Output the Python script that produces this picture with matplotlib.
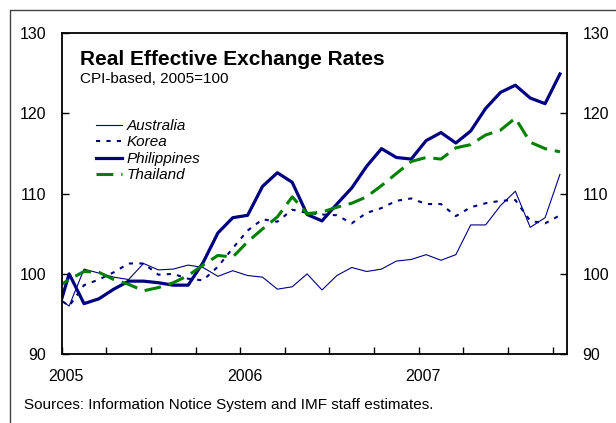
import matplotlib
matplotlib.use("Agg")
import matplotlib.pyplot as plt
import matplotlib.transforms as mtransforms
from matplotlib.lines import Line2D

plt.rcParams['font.family'] = ['Liberation Sans', 'DejaVu Sans']

# monthly data, Dec 2004 (clipped at the axis edge) to Oct 2007
months = list(range(-1, 34))
australia = [97.3, 96.0, 100.6, 100.1, 99.6, 99.3, 101.3, 100.5, 100.6, 101.1, 100.8,
             99.7, 100.4, 99.8, 99.6, 98.1, 98.4, 100.0, 98.0, 99.8, 100.8, 100.3,
             100.6, 101.6, 101.8, 102.4, 101.7, 102.4, 106.1, 106.1, 108.5, 110.3,
             105.8, 107.0, 112.4]
korea = [97.3, 96.0, 98.6, 99.3, 100.2, 101.3, 101.3, 99.9, 100.0, 99.4, 99.2,
         100.9, 103.2, 105.4, 106.8, 106.5, 108.0, 107.6, 107.4, 107.3, 106.3, 107.6,
         108.2, 109.1, 109.4, 108.7, 108.7, 107.2, 108.3, 108.8, 109.1, 109.2,
         106.6, 106.3, 107.3]
philippines = [93.8, 100.0, 96.3, 96.9, 98.1, 99.1, 99.1, 98.9, 98.6, 98.6, 101.4,
               105.1, 107.0, 107.3, 110.9, 112.6, 111.4, 107.4, 106.6, 108.7, 110.7,
               113.4, 115.6, 114.5, 114.3, 116.6, 117.6, 116.3, 117.8, 120.6, 122.6,
               123.5, 121.9, 121.2, 124.9]
thailand = [98.1, 99.3, 100.3, 100.2, 99.3, 98.7, 97.9, 98.3, 98.9, 99.8, 101.1,
            102.3, 102.1, 104.0, 105.6, 107.1, 109.6, 107.5, 107.7, 108.3, 108.8,
            109.6, 111.0, 112.5, 114.0, 114.5, 114.3, 115.7, 116.1, 117.3, 117.9,
            119.4, 116.4, 115.6, 115.2]
years = ['2005', '2006', '2007']
year_start = [0, 12, 24]

navy = '#000080'
green = '#008000'

fig = plt.figure(figsize=(6.16, 4.23), dpi=100)
ax = fig.add_axes([0.1002, 0.1626, 0.8209, 0.7594])

x = [m + 0.5 for m in months]
ax.plot(x, australia, color=navy, lw=0.8, label='Australia')
ax.plot(x, korea, color=navy, lw=1.5, ls=(0, (2.0, 3.0)), label='Korea')
ax.plot(x, philippines, color=navy, lw=2.3, label='Philippines')
ax.plot(x, thailand, color=green, lw=2.2, ls=(0, (5.5, 2.6)), label='Thailand')

ax.set_xlim(0, 34)
ax.set_ylim(90, 130)
ax.set_yticks([90, 100, 110, 120, 130])
ax.set_xticks(range(0, 34, 3))
ax.set_xticklabels([])
ax.tick_params(axis='both', direction='in', length=5, width=1, labelsize=11.5,
               color='black')
ax.tick_params(axis='y', pad=11, right=True, labelright=True)
ax.tick_params(axis='x', pad=0)
for s in ax.spines.values():
    s.set_linewidth(1.3)

trans = mtransforms.blended_transform_factory(ax.transData, ax.transAxes)
for y, xs in zip(years, year_start):
    ax.text(xs + 0.3, -0.07, y, transform=trans, ha='center', va='center',
            fontsize=11.5)

fig.text(0.130, 0.8463, 'Real Effective Exchange Rates', fontsize=15,
         fontweight='bold', va='baseline')
fig.text(0.130, 0.8035, 'CPI-based, 2005=100', fontsize=11, va='baseline')
fig.text(0.039, 0.034, 'Sources: Information Notice System and IMF staff estimates.',
         fontsize=11, va='baseline')

leg = ax.legend(loc='upper left', bbox_to_anchor=(95.5 / 616, 1 - 119 / 423),
                bbox_transform=fig.transFigure, frameon=False, fontsize=11,
                handlelength=1.75, handletextpad=0.3, labelspacing=0.16,
                borderpad=0, borderaxespad=0)
for t in leg.get_texts():
    t.set_fontstyle('italic')

# outer frame of the exhibit
fig.add_artist(Line2D([10 / 616, 10 / 616, 1.0], [0, 1 - 10 / 423, 1 - 10 / 423],
                      transform=fig.transFigure, color='#444444', lw=1.0))

fig.savefig('out.png', dpi=100)
